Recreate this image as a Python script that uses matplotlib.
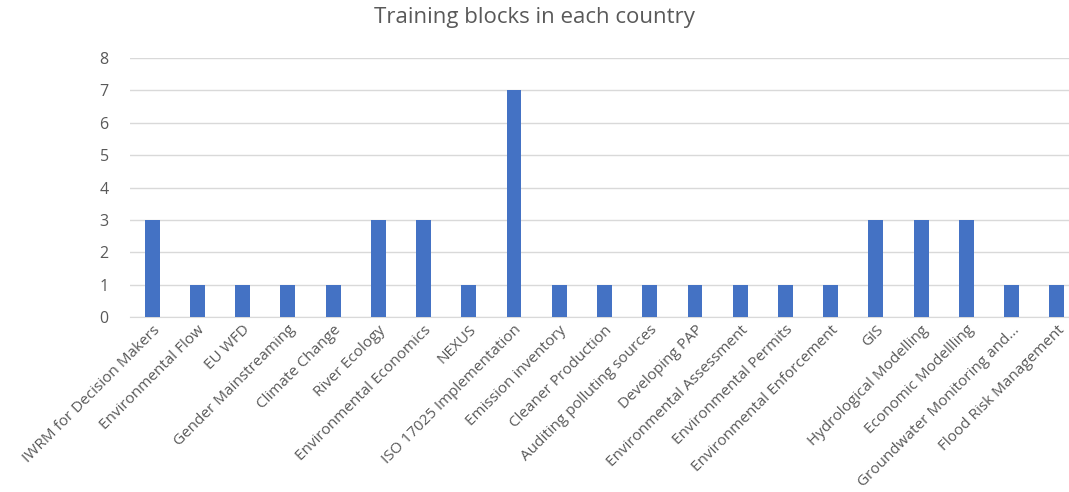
import matplotlib.pyplot as plt

# Dados do gráfico
cursos = ["IWRM for Decision Makers", "Environmental Flow", "EU WFD", "Gender Mainstreaming",
          "Climate Change", "River Ecology", "Environmental Economics", "NEXUS",
          "ISO 17025 Implementation", "Emission inventory", "Cleaner Production",
          "Auditing polluting sources", "Developing PAP", "Environmental Assessment",
          "Environmental Permits", "Environmental Enforcement", "GIS", "Hydrological Modelling",
          "Economic Modellling", "Groundwater Monitoring and...", "Flood Risk Management"]
blocos = [3, 1, 1, 1, 1, 3, 3, 1, 7, 1, 1, 1, 1, 1, 1, 1, 3, 3, 3, 1, 1]

plt.rcParams['font.family'] = ['Open Sans', 'DejaVu Sans']
cinza = '#595959'

fig = plt.figure(figsize=(10.69, 4.92), dpi=100)
ax = fig.add_axes([129.5 / 1069, 1 - 317 / 492, 950 / 1069, 259 / 492])

x = range(len(cursos))
ax.bar(x, blocos, width=0.33, color='#4472C4', zorder=3)

ax.set_xlim(-0.5, len(cursos) - 0.5)
ax.set_ylim(0, 8)
ax.set_yticks(range(0, 9))
ax.grid(axis='y', color='#D9D9D9', linewidth=1, zorder=0)
for lado in ['top', 'right', 'left']:
    ax.spines[lado].set_visible(False)
ax.spines['bottom'].set_color('#D9D9D9')

ax.set_xticks(list(x))
ax.set_xticklabels(cursos, rotation=45, ha='right', rotation_mode='anchor',
                   fontsize=11, color=cinza)
ax.tick_params(axis='y', length=0, labelsize=11.5, labelcolor=cinza, pad=15)
ax.tick_params(axis='x', length=0, labelcolor=cinza, pad=4)

fig.suptitle("Training blocks in each country", x=0.5, y=0.985, fontsize=16, color=cinza)

plt.savefig("out.png", dpi=100)
